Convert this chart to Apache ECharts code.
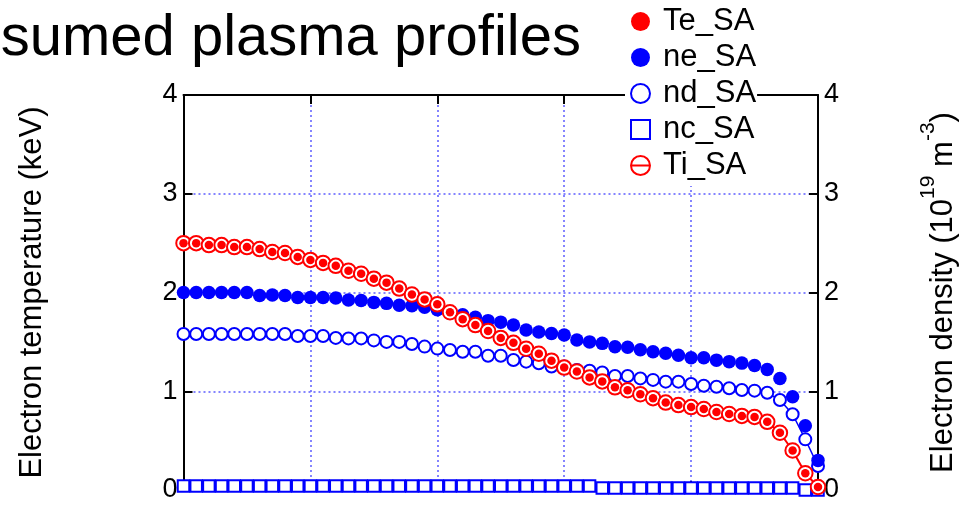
<!DOCTYPE html>
<html>
<head>
<meta charset="utf-8">
<title>Assumed plasma profiles</title>
<script src="https://cdn.jsdelivr.net/npm/echarts@6/dist/echarts.min.js"></script>
<style>
  html, body { margin: 0; padding: 0; background: #ffffff; }
  #chart { width: 967px; height: 505px; }
</style>
</head>
<body>
<div id="chart"></div>
<script>
// Normalised minor radius of each sample point
const rho = [0.00, 0.02, 0.04, 0.06, 0.08, 0.10, 0.12, 0.14, 0.16, 0.18,
             0.20, 0.22, 0.24, 0.26, 0.28, 0.30, 0.32, 0.34, 0.36, 0.38,
             0.40, 0.42, 0.44, 0.46, 0.48, 0.50, 0.52, 0.54, 0.56, 0.58,
             0.60, 0.62, 0.64, 0.66, 0.68, 0.70, 0.72, 0.74, 0.76, 0.78,
             0.80, 0.82, 0.84, 0.86, 0.88, 0.90, 0.92, 0.94, 0.96, 0.98, 1.00];

// Electron temperature (keV)
const teSA = [2.50, 2.50, 2.48, 2.48, 2.46, 2.46, 2.44, 2.41, 2.40, 2.36,
              2.33, 2.30, 2.27, 2.22, 2.19, 2.14, 2.10, 2.04, 1.98, 1.93,
              1.88, 1.80, 1.73, 1.67, 1.61, 1.54, 1.49, 1.43, 1.38, 1.31,
              1.24, 1.20, 1.14, 1.10, 1.04, 1.01, 0.97, 0.93, 0.885, 0.86,
              0.84, 0.82, 0.79, 0.77, 0.75, 0.74, 0.69, 0.58, 0.40, 0.17, 0.03];

// Ion temperature (keV)
const tiSA = [2.50, 2.50, 2.48, 2.48, 2.46, 2.46, 2.44, 2.41, 2.40, 2.36,
              2.33, 2.30, 2.27, 2.22, 2.19, 2.14, 2.10, 2.04, 1.98, 1.93,
              1.88, 1.80, 1.73, 1.67, 1.61, 1.54, 1.49, 1.43, 1.38, 1.31,
              1.24, 1.20, 1.14, 1.10, 1.04, 1.01, 0.97, 0.93, 0.885, 0.86,
              0.84, 0.82, 0.79, 0.77, 0.75, 0.74, 0.69, 0.58, 0.40, 0.17, 0.03];

// Electron density (1e19 m^-3)
const neSA = [2.00, 2.00, 2.00, 2.00, 2.00, 2.00, 1.97, 1.975, 1.97, 1.95,
              1.95, 1.95, 1.945, 1.925, 1.92, 1.90, 1.89, 1.87, 1.865, 1.85,
              1.825, 1.79, 1.775, 1.75, 1.715, 1.70, 1.67, 1.62, 1.60, 1.585,
              1.57, 1.52, 1.50, 1.485, 1.45, 1.445, 1.42, 1.40, 1.385, 1.365,
              1.34, 1.34, 1.315, 1.30, 1.285, 1.26, 1.22, 1.13, 0.945, 0.65, 0.30];

// Deuterium density (1e19 m^-3)
const ndSA = [1.58, 1.58, 1.58, 1.58, 1.58, 1.58, 1.58, 1.58, 1.58, 1.56,
              1.56, 1.56, 1.54, 1.535, 1.535, 1.515, 1.50, 1.50, 1.478, 1.452,
              1.432, 1.418, 1.40, 1.40, 1.36, 1.36, 1.316, 1.30, 1.283, 1.25,
              1.25, 1.215, 1.208, 1.19, 1.155, 1.155, 1.13, 1.115, 1.097, 1.097,
              1.073, 1.056, 1.046, 1.03, 1.013, 1.006, 0.985, 0.911, 0.767, 0.513, 0.243];

// Carbon density (1e19 m^-3)
const ncSA = [0.04, 0.04, 0.04, 0.04, 0.04, 0.04, 0.04, 0.04, 0.04, 0.04,
              0.04, 0.04, 0.04, 0.04, 0.04, 0.04, 0.04, 0.04, 0.04, 0.04,
              0.04, 0.04, 0.04, 0.04, 0.04, 0.04, 0.04, 0.04, 0.04, 0.04,
              0.04, 0.04, 0.04, 0.02, 0.02, 0.02, 0.02, 0.02, 0.02, 0.02,
              0.02, 0.02, 0.02, 0.02, 0.02, 0.02, 0.02, 0.02, 0.02, 0.00, 0.00];

const yTicks = [0, 1, 2, 3, 4];
const xTicks = [0, 0.2, 0.4, 0.6, 0.8, 1.0];

const FONT = '"Liberation Sans", Arial, Helvetica, sans-serif';
const RED = '#ff0000';
const BLUE = '#0000ff';
const GRID_LINE = { color: '#5c5cff', width: 1.5, type: [2, 3] };
const AXIS_LINE = { color: '#000000', width: 2 };

const pts = ys => rho.map((x, i) => [x, ys[i]]);

function xAxisOf(position, grid) {
  return {
    type: 'value', position: position,
    min: xTicks[0], max: xTicks[xTicks.length - 1], interval: 0.2,
    axisLine: { show: true, onZero: false, lineStyle: AXIS_LINE },
    axisTick: { show: true, inside: true, length: 9, lineStyle: AXIS_LINE },
    axisLabel: { show: false },
    splitLine: { show: grid, lineStyle: GRID_LINE }
  };
}

function yAxisOf(position, grid, extra) {
  return Object.assign({
    type: 'value', position: position,
    min: yTicks[0], max: yTicks[yTicks.length - 1], interval: 1,
    axisLine: { show: true, onZero: false, lineStyle: AXIS_LINE },
    axisTick: { show: true, inside: true, length: 9, lineStyle: AXIS_LINE },
    axisLabel: { show: true, fontSize: 27, color: '#000', fontFamily: FONT, margin: 6,
                 showMinLabel: true, showMaxLabel: true },
    splitLine: { show: grid, lineStyle: GRID_LINE },
    nameLocation: 'middle', nameRotate: 90
  }, extra);
}

const chart = echarts.init(document.getElementById('chart'));

chart.setOption({
  animation: false,
  backgroundColor: '#ffffff',
  title: {
    text: 'Assumed plasma profiles',
    left: -67, top: 10, padding: 0,
    textStyle: { fontSize: 58, fontWeight: 'normal', color: '#000', fontFamily: FONT }
  },
  grid: { left: 183.5, right: 142, top: 95, bottom: 15, containLabel: false },
  xAxis: [xAxisOf('bottom', true), xAxisOf('top', false)],
  yAxis: [
    yAxisOf('left', true, {
      name: 'Electron temperature (keV)', nameGap: 136,
      nameTextStyle: { fontSize: 31, color: '#000', fontFamily: FONT }
    }),
    yAxisOf('right', false, {
      name: 'Electron density (10{sup|19} m{sup|-3})', nameGap: 100,
      nameTextStyle: {
        fontSize: 31, color: '#000', fontFamily: FONT,
        rich: { sup: { fontSize: 21, color: '#000', fontFamily: FONT, padding: [0, 0, 30, 0] } }
      }
    })
  ],
  legend: {
    orient: 'vertical', left: 625, top: 0,
    padding: [6, 1, 5, 5], backgroundColor: '#ffffff',
    itemWidth: 19, itemHeight: 19, itemGap: 5,
    textStyle: { fontSize: 31, color: '#000', fontFamily: FONT, padding: [0, 0, 0, 8] },
    data: [
      { name: 'Te_SA', icon: 'circle', itemStyle: { color: RED, opacity: 1 } },
      { name: 'ne_SA', icon: 'circle', itemStyle: { color: BLUE, opacity: 1 } },
      { name: 'nd_SA', icon: 'emptyCircle' },
      { name: 'nc_SA', icon: 'emptyRect', itemStyle: { opacity: 1 } },
      { name: 'Ti_SA', icon: 'path://M1,10A9,9,0,1,1,19,10A9,9,0,1,1,1,10ZM1,10L19,10',
        itemStyle: { color: '#ffffff', borderColor: RED, borderWidth: 2 } }
    ]
  },
  series: [
    {
      name: 'nc_SA', type: 'scatter', data: pts(ncSA), clip: false, z: 2,
      symbol: 'emptyRect', symbolSize: 11.5, color: BLUE,
      itemStyle: { color: BLUE, borderWidth: 1.5, opacity: 1 }
    },
    {
      name: 'nd_SA', type: 'line', data: pts(ndSA), clip: false, z: 3,
      symbol: 'emptyCircle', symbolSize: 12, showSymbol: true, color: BLUE,
      itemStyle: { color: BLUE, borderWidth: 2 },
      lineStyle: { color: BLUE, width: 1.5 }
    },
    {
      name: 'ne_SA', type: 'scatter', data: pts(neSA), clip: false, z: 4,
      symbol: 'circle', symbolSize: 13.5, color: BLUE,
      itemStyle: { color: BLUE, opacity: 1 }
    },
    {
      name: 'Ti_SA', type: 'line', data: pts(tiSA), clip: false, z: 5,
      symbol: 'emptyCircle', symbolSize: 14.5, showSymbol: true, color: RED,
      itemStyle: { color: RED, borderWidth: 2 },
      lineStyle: { color: RED, width: 2 }
    },
    {
      name: 'Te_SA', type: 'scatter', data: pts(teSA), clip: false, z: 6,
      symbol: 'circle', symbolSize: 8.5, color: RED,
      itemStyle: { color: RED, opacity: 1 }
    }
  ]
});
</script>
</body>
</html>
